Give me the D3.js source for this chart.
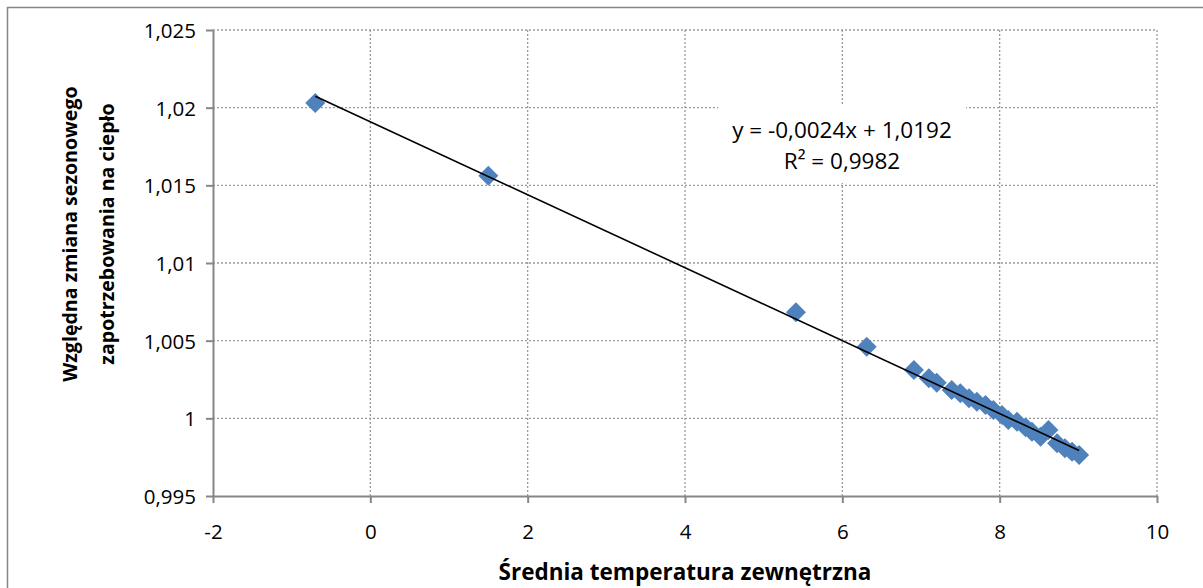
<!DOCTYPE html>
<html>
<head>
<meta charset="utf-8">
<title>Względna zmiana zapotrzebowania</title>
<script src="https://d3js.org/d3.v7.min.js"></script>
<style>
  body { margin: 0; background: #fff; }
  svg text { font-family: "Open Sans", "Noto Sans", sans-serif; fill: #000; }
  .grid line { stroke: #9a9a9a; stroke-width: 1.3; stroke-dasharray: 2,2; }
</style>
</head>
<body>
<div id="chart"></div>
<script>
// temperatures (x) and relative change (y)
const temps = [-0.70, 1.50, 5.41, 6.31, 6.91, 7.10, 7.20, 7.39, 7.50, 7.61, 7.71, 7.82,
               7.92, 8.03, 8.11, 8.22, 8.33, 8.41, 8.52, 8.62, 8.73, 8.83, 8.92, 9.01];
const ratios = [1.0203, 1.01562, 1.00683, 1.00461, 1.00311, 1.00258, 1.00229, 1.00182,
                1.00161, 1.00129, 1.00107, 1.00086, 1.00054, 1.00021, 0.99989, 0.99978,
                0.99942, 0.99914, 0.99882, 0.99925, 0.99839, 0.99807, 0.99785, 0.99764];
const xTicks = [-2, 0, 2, 4, 6, 8, 10];
const yTicks = [0.995, 1, 1.005, 1.01, 1.015, 1.02, 1.025];
const eqLines = ["y = -0,0024x + 1,0192", "R\u00b2 = 0,9982"];
const xTitle = "Średnia temperatura zewnętrzna";
const yTitle = ["Względna zmiana sezonowego", "zapotrzebowania na ciepło"];

const W = 1203, H = 588;
const mLeft = 213, mRight = 1157, mTop = 30, mBottom = 496;

const svg = d3.select("#chart").append("svg")
  .attr("width", W).attr("height", H);

// outer chart frame
svg.append("rect")
  .attr("x", 7.5).attr("y", 7.5).attr("width", W).attr("height", H)
  .attr("fill", "none").attr("stroke", "#868686").attr("stroke-width", 1.5);

const x = d3.scaleLinear().domain([-2, 10]).range([mLeft, mRight]);
const y = d3.scaleLinear().domain([0.995, 1.025]).range([mBottom, mTop]);

const fmt = v => {
  let s = d3.format(".3f")(v).replace(/0+$/, "").replace(/\.$/, "");
  return s.replace(".", ",");
};

// gridlines
const grid = svg.append("g").attr("class", "grid");
grid.selectAll(".gx").data(xTicks.slice(1)).join("line")
  .attr("x1", d => x(d)).attr("x2", d => x(d))
  .attr("y1", mTop).attr("y2", mBottom);
grid.selectAll(".gy").data(yTicks.slice(1)).join("line")
  .attr("x1", mLeft).attr("x2", mRight)
  .attr("y1", d => y(d)).attr("y2", d => y(d));

// axes
const xAxis = svg.append("g").attr("transform", `translate(0,${mBottom})`)
  .call(d3.axisBottom(x).tickValues(xTicks).tickSize(7).tickSizeOuter(0).tickFormat(d => d));
const yAxis = svg.append("g").attr("transform", `translate(${mLeft},0)`)
  .call(d3.axisLeft(y).tickValues(yTicks).tickSize(7).tickSizeOuter(0).tickFormat(fmt));
[xAxis, yAxis].forEach(a => {
  a.select(".domain").attr("stroke", "#868686").attr("stroke-width", 2);
  a.selectAll(".tick line").attr("stroke", "#868686").attr("stroke-width", 2);
  a.selectAll(".tick text").style("font-size", "20.5px").attr("fill", "#000");
});
xAxis.selectAll(".tick text").attr("y", 36).attr("dy", "0.36em");
yAxis.selectAll(".tick text").attr("x", -17).attr("dy", "0.36em");

// least squares trendline
const n = temps.length;
const mx = d3.mean(temps), my = d3.mean(ratios);
let sxy = 0, sxx = 0;
for (let i = 0; i < n; i++) {
  sxy += (temps[i] - mx) * (ratios[i] - my);
  sxx += (temps[i] - mx) ** 2;
}
const slope = sxy / sxx, icpt = my - slope * mx;
const xr = d3.extent(temps);

// markers
const diamond = d3.symbol().type(d3.symbolSquare).size(200);
svg.append("g").selectAll("path").data(temps).join("path")
  .attr("d", diamond)
  .attr("transform", (d, i) => `translate(${x(d)},${y(ratios[i])}) rotate(45)`)
  .attr("fill", "#4f81bd");

svg.append("line")
  .attr("x1", x(xr[0])).attr("y1", y(slope * xr[0] + icpt))
  .attr("x2", x(xr[1])).attr("y2", y(slope * xr[1] + icpt))
  .attr("stroke", "#000").attr("stroke-width", 1.6);

// equation label with white box
svg.append("rect").attr("x", 718).attr("y", 104).attr("width", 248).attr("height", 79)
  .attr("fill", "#fff");
svg.append("g").selectAll("text").data(eqLines).join("text")
  .attr("x", 842).attr("y", (d, i) => 130 + i * 31).attr("dy", "0.36em")
  .attr("text-anchor", "middle").style("font-size", "22.5px")
  .text(d => d);

// axis titles
svg.append("text").attr("x", (mLeft + mRight) / 2).attr("y", 572).attr("dy", "0.36em")
  .attr("text-anchor", "middle").style("font-size", "22.5px").style("font-weight", "bold")
  .text(xTitle);
svg.append("g").attr("transform", "translate(70,234) rotate(-90)")
  .selectAll("text").data(yTitle).join("text")
  .attr("x", 0).attr("y", (d, i) => i * 37).attr("dy", "0.36em")
  .attr("text-anchor", "middle").style("font-size", "19.6px").style("font-weight", "bold")
  .text(d => d);
</script>
</body>
</html>
